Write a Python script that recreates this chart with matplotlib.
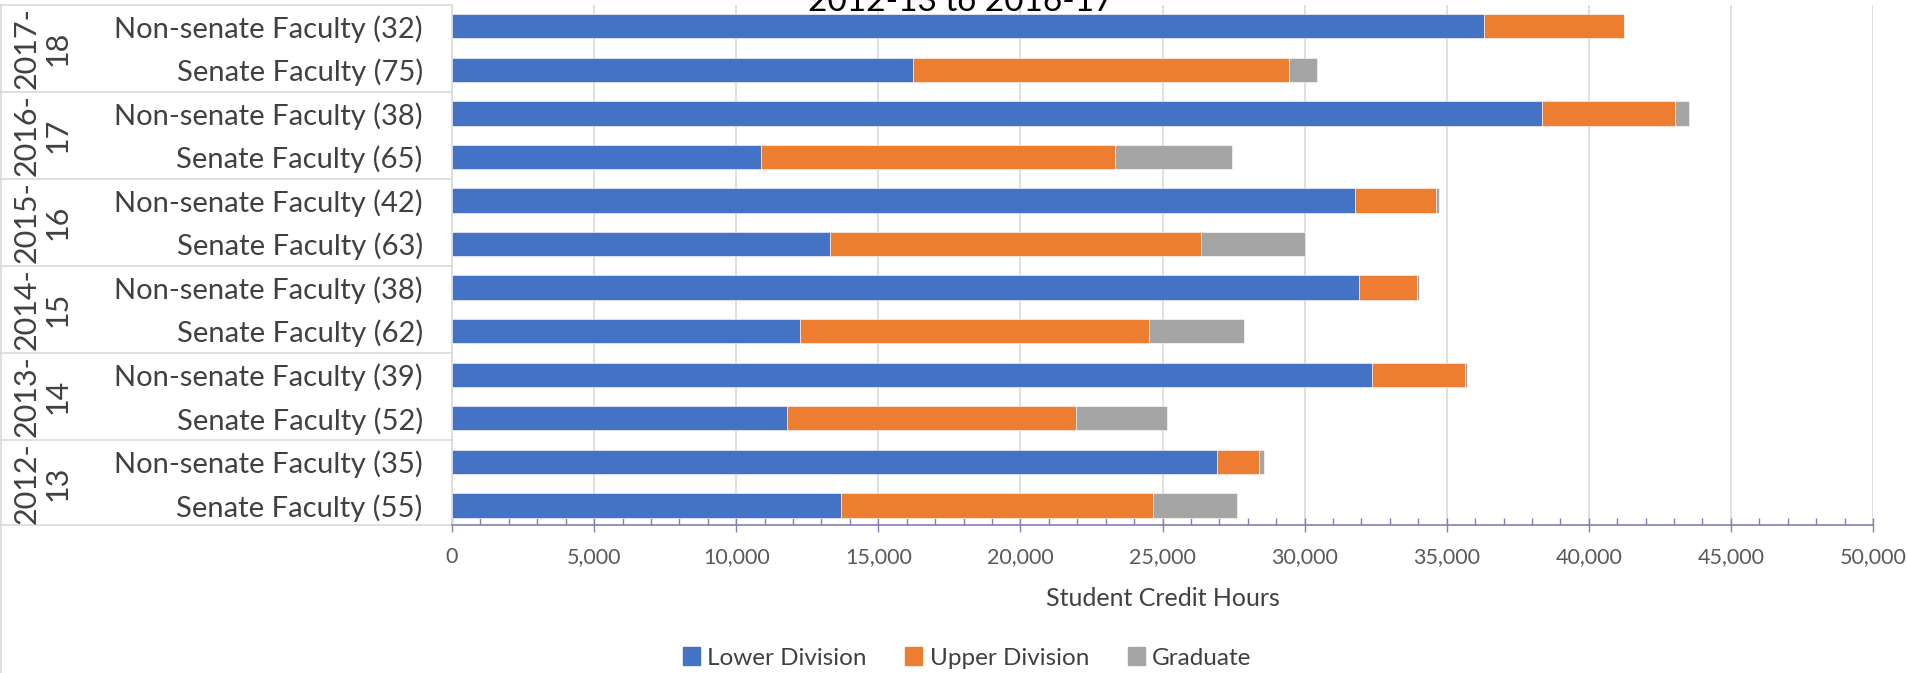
import matplotlib.pyplot as plt
import matplotlib.transforms as mtransforms
from matplotlib.patches import Patch
from matplotlib.ticker import MultipleLocator, FuncFormatter

plt.rcParams["font.family"] = ["Lato", "DejaVu Sans"]

# rows listed top to bottom, as in the chart
years = ["2017-\n18", "2016-\n17", "2015-\n16", "2014-\n15", "2013-\n14", "2012-\n13"]
row_labels = [
    "Non-senate Faculty (32)", "Senate Faculty (75)",
    "Non-senate Faculty (38)", "Senate Faculty (65)",
    "Non-senate Faculty (42)", "Senate Faculty (63)",
    "Non-senate Faculty (38)", "Senate Faculty (62)",
    "Non-senate Faculty (39)", "Senate Faculty (52)",
    "Non-senate Faculty (35)", "Senate Faculty (55)",
]
lower_div = [36330, 16230, 38370, 10890, 31790, 13290, 31930, 12250, 32370, 11800, 26930, 13700]
upper_div = [4910, 13210, 4650, 12440, 2830, 13060, 2020, 12280, 3260, 10160, 1480, 10980]
graduate = [0, 980, 490, 4130, 100, 3680, 60, 3350, 100, 3200, 160, 2940]

series_names = ["Lower Division", "Upper Division", "Graduate"]
colors = ["#4472C4", "#ED7D31", "#A5A5A5"]

W, H = 1907, 673
fig = plt.figure(figsize=(W / 100, H / 100), dpi=100)
ax = fig.add_axes([452 / W, 1 - 525 / H, (1873 - 452) / W, (525 - 4.5) / H])

n = len(row_labels)
ypos = [n - 1 - i for i in range(n)]
left = [0] * n
for vals, name, c in zip([lower_div, upper_div, graduate], series_names, colors):
    ax.barh(ypos, vals, left=left, height=0.56, color=c, label=name,
            edgecolor="white", linewidth=0.4, zorder=3)
    left = [a + b for a, b in zip(left, vals)]

ax.set_xlim(0, 50000)
ax.set_ylim(-0.45, n - 0.5)
ax.xaxis.set_major_locator(MultipleLocator(5000))
ax.xaxis.set_minor_locator(MultipleLocator(1000))
ax.xaxis.set_major_formatter(FuncFormatter(lambda v, p: f"{int(v):,}"))
ax.grid(axis="x", which="major", color="#d9d9d9", linewidth=1.2, zorder=0)

axis_col = "#8080b0"
ax.tick_params(axis="x", which="major", direction="inout", length=10, width=1,
               color=axis_col, labelsize=15.5, labelcolor="#595959", pad=11)
ax.tick_params(axis="x", which="minor", direction="in", length=5, width=1, color=axis_col)
ax.set_yticks(ypos)
ax.set_yticklabels(row_labels, fontsize=21, color="#404040")
ax.tick_params(axis="y", length=0, pad=21)

for s in ["top", "right"]:
    ax.spines[s].set_visible(False)
ax.spines["left"].set_color("#d9d9d9")
ax.spines["left"].set_linewidth(1.2)
ax.spines["bottom"].set_color(axis_col)
ax.spines["bottom"].set_linewidth(1.2)

ax.set_xlabel("Student Credit Hours", fontsize=18, color="#404040", labelpad=14)

# year group labels and separator lines in the label area
trans = mtransforms.blended_transform_factory(fig.transFigure, ax.transData)
for g, yr in enumerate(years):
    yc = n - 1 - (2 * g + 0.5)
    ax.text(42 / W, yc, yr, transform=trans, rotation=90, ha="center", va="center",
            multialignment="center", fontsize=22, color="#404040", linespacing=1.1)
for b in range(0, n + 1, 2):
    yb = max(b - 0.5, -0.45)
    ax.plot([0, 452 / W], [yb, yb], transform=trans, color="#d9d9d9",
            linewidth=1.2, clip_on=False)
fig.add_artist(plt.Line2D([0.5 / W, 0.5 / W], [0, 1 - 4.5 / H], color="#d9d9d9", linewidth=1.2))

fig.text(961 / W, 1 - 11 / H, "2012-13 to 2016-17", ha="center", va="baseline",
         fontsize=24, color="#000000")

handles = [Patch(color=c, label=nm) for c, nm in zip(colors, series_names)]
fig.legend(handles=handles, loc="center", bbox_to_anchor=(967 / W, 1 - 658 / H), ncol=3,
           frameon=False, fontsize=17.5, handlelength=0.7, handleheight=0.7,
           handletextpad=0.3, columnspacing=1.6, labelcolor="#404040")

fig.savefig("out.png", dpi=100)
